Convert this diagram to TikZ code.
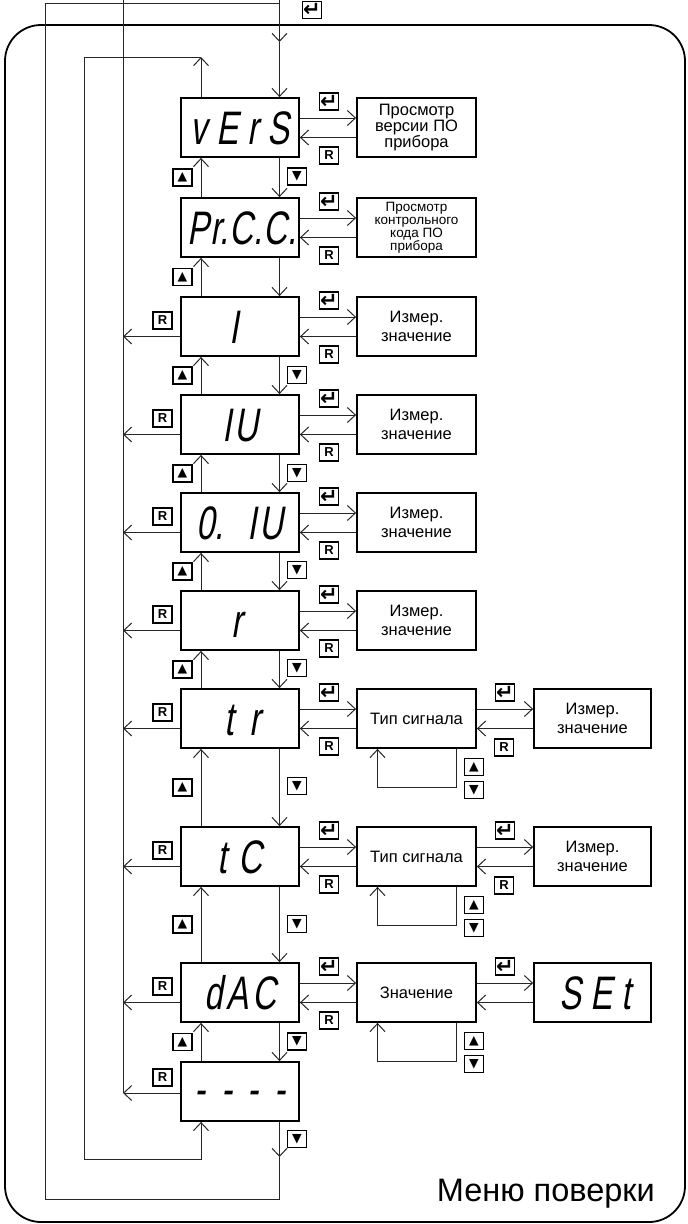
\documentclass[tikz,border=0pt]{standalone}
\usepackage{fontspec}
\setmainfont{Liberation Sans}
\newfontfamily\dispfont[FakeStretch=0.7,FakeSlant=0.17]{Liberation Sans}
\newfontfamily\djvsym{DejaVu Sans}
\usetikzlibrary{arrows.meta}
\newcommand\entersym{{\djvsym\bfseries\fontsize{21}{21}\selectfont ↵}}
\newcommand\upsym{{\djvsym\fontsize{12.5}{12.5}\selectfont ▲}}
\newcommand\downsym{{\djvsym\fontsize{12.5}{12.5}\selectfont ▼}}
\newcommand\rsym{{\bfseries\fontsize{13}{13}\selectfont R}}
\begin{document}
\begin{tikzpicture}[x=1pt,y=-1pt,
  conn/.style={draw=black!85,line width=1pt},
  arr/.style={conn,-{Straight Barb[length=8pt,width=15pt]}},
  dispbox/.style={draw,line width=1.8pt,minimum width=118pt,minimum height=59pt,inner sep=0pt,
    text height=33.6pt,text depth=0pt,font=\dispfont\fontsize{47}{47}\selectfont},
  sidebox/.style={draw,line width=1.8pt,minimum width=119pt,minimum height=59pt,inner sep=0pt,
    align=center,font=\fontsize{16.5}{19.5}\selectfont},
  iconbox/.style={draw,line width=1.6pt,minimum width=19pt,minimum height=17pt,inner sep=0pt},
  outerframe/.style={draw,line width=1.8pt,rounded corners=36pt,minimum width=680pt,minimum height=1197pt,inner sep=0pt},
  menutitle/.style={inner sep=0pt,font=\fontsize{32.5}{32.5}\selectfont}]
\useasboundingbox (0,0) rectangle (688,1224);
\clip (0,0) rectangle (688,1224);

\node[outerframe] (frame) at (345,623.5) {};
\node[menutitle,anchor=base east] (title) at (655,1201.5) {Меню поверки};

% main column
\node[dispbox] (m1) at (240,127.5) {v\kern9pt E\kern9pt r\kern9pt S};
\node[dispbox] (m2) at (240,227.5) {\kern4pt P\kern1pt r.\kern1pt C.\kern1pt C.};
\node[dispbox] (m3) at (240,326.5) {I\kern12pt};
\node[dispbox] (m4) at (240,424.5) {I\kern3pt U};
\node[dispbox] (m5) at (240,522.5) {0.\kern24pt I\kern3pt U};
\node[dispbox] (m6) at (240,620.5) {r\kern6pt};
\node[dispbox] (m7) at (240,718.5) {\kern5pt t\kern16pt r};
\node[dispbox] (m8) at (240,856.5) {t\kern12pt C};
\node[dispbox] (m9) at (240,992.5) {d\kern4pt A\kern4pt C};
\node[dispbox] (m10) at (240,1091.5) {\raisebox{3pt}{-\kern16pt-\kern16pt-\kern16pt-}};

% side column
\node[sidebox,font=\fontsize{16.5}{16}\selectfont] (s1) at (416.5,127.5) {Просмотр\\версии ПО\\прибора};
\node[sidebox,font=\fontsize{13.5}{13}\selectfont] (s2) at (416.5,227.5) {Просмотр\\контрольного\\кода ПО\\прибора};
\node[sidebox] (s3) at (416.5,326.5) {Измер.\\значение};
\node[sidebox] (s4) at (416.5,424.5) {Измер.\\значение};
\node[sidebox] (s5) at (416.5,522.5) {Измер.\\значение};
\node[sidebox] (s6) at (416.5,620.5) {Измер.\\значение};
\node[sidebox] (s7) at (416.5,718.5) {Тип сигнала};
\node[sidebox] (s8) at (416.5,856.5) {Тип сигнала};
\node[sidebox] (s9) at (416.5,992.5) {Значение};

% third column
\node[sidebox,minimum width=117pt] (t7) at (592.5,718.5) {Измер.\\значение};
\node[sidebox,minimum width=117pt] (t8) at (592.5,856.5) {Измер.\\значение};
\node[dispbox,minimum width=117pt] (t9) at (592.5,992.5) {\kern5pt S\kern9pt E\kern9pt t};

% main <-> side
\foreach \i in {1,...,9} {
  \draw[arr] ([yshift=9.5pt]m\i.east) -- ([yshift=9.5pt]s\i.west);
  \draw[arr] ([yshift=-10pt]s\i.west) -- ([yshift=-10pt]m\i.east);
}
% side <-> third
\foreach \i in {7,8,9} {
  \draw[arr] ([yshift=9.5pt]s\i.east) -- ([yshift=9.5pt]t\i.west);
  \draw[arr] ([yshift=-10pt]t\i.west) -- ([yshift=-10pt]s\i.east);
  \draw[arr] ([xshift=39.5pt]s\i.south) -- ++(0,39) -| ([xshift=-39pt]s\i.south);
}
% vertical links
\foreach \a/\b in {1/2,2/3,3/4,4/5,5/6,6/7,7/8,8/9,9/10} {
  \draw[arr] ([xshift=39.5pt]m\a.south) -- ([xshift=39.5pt]m\b.north);
  \draw[arr] ([xshift=-39pt]m\b.north) -- ([xshift=-39pt]m\a.south);
}
% R return line on the left
\coordinate (rl) at (123,0);
\coordinate (rtop) at (123,-5);
\foreach \i in {3,...,9} {
  \coordinate (lr\i) at ([yshift=-10pt]m\i.west);
  \draw[arr] (lr\i) -- (lr\i -| rl);
}
\coordinate (lr10) at ([yshift=-1.5pt]m10.west);
\draw[arr] (lr10) -- (lr10 -| rl);
\draw[conn] (rtop) -- (lr10 -| rl);

% outer loop (down from last item back to first)
\coordinate (in0) at (279.5,-5);
\coordinate (in1) at (279.5,42);
\coordinate (lp1) at (45,3);
\coordinate (lp2) at (45,1199);
\coordinate (dn1) at (279.5,1157);
\coordinate (dn2) at (279.5,1199);
\draw[arr] (in0) -- (in1);
\draw[arr] (in1) -- ([xshift=39.5pt]m1.north);
\draw[conn] (lp1) -- (lp1 -| in0);
\draw[arr] ([xshift=39.5pt]m10.south) -- (dn1);
\draw[conn] (dn1) -- (dn2) -- (lp2) -- (lp1);

% inner loop (up from first item to last)
\coordinate (up1) at (201,57);
\coordinate (lq1) at (84,57);
\coordinate (lq2) at (84,1159);
\coordinate (up2) at (201,1159);
\draw[arr] ([xshift=-39pt]m1.north) -- (up1);
\draw[arr] (up1) -- (lq1) -- (lq2) -- (up2) -- ([xshift=-39pt]m10.south);

% icons
\node[iconbox] (e0) at (312,10) {\entersym};
\foreach \y [count=\k] in {101.5,201.5,300.5,398.5,496.5,594.5,692.5,830.5,966.5}
  \node[iconbox] (ea\k) at (329,\y) {\entersym};
\foreach \y [count=\k] in {155.5,255.5,354.5,452.5,550.5,648.5,746.5,884.5,1020.5}
  \node[iconbox] (ra\k) at (329,\y) {\rsym};
\foreach \y [count=\k] in {320.5,418.5,516.5,614.5,712.5,850.5,986.5,1077.5}
  \node[iconbox] (rl\k) at (162.5,\y) {\rsym};
\foreach \y [count=\k] in {177.5,277,375.5,473.5,571.5,669.5,787.5,924.5,1042}
  \node[iconbox] (ua\k) at (182.5,\y) {\upsym};
\foreach \y [count=\k] in {176.5,375,473,570,668,786,924,1041.5,1139}
  \node[iconbox] (da\k) at (297,\y) {\downsym};
\foreach \y [count=\k] in {692.5,830.5,966.5}
  \node[iconbox] (eb\k) at (505,\y) {\entersym};
\foreach \y [count=\k] in {747.5,885.5}
  \node[iconbox] (rb\k) at (504,\y) {\rsym};
\foreach \y [count=\k] in {767,905,1041}
  \node[iconbox] (ub\k) at (474,\y) {\upsym};
\foreach \y [count=\k] in {790,928,1064}
  \node[iconbox] (db\k) at (474,\y) {\downsym};
\end{tikzpicture}
\end{document}
